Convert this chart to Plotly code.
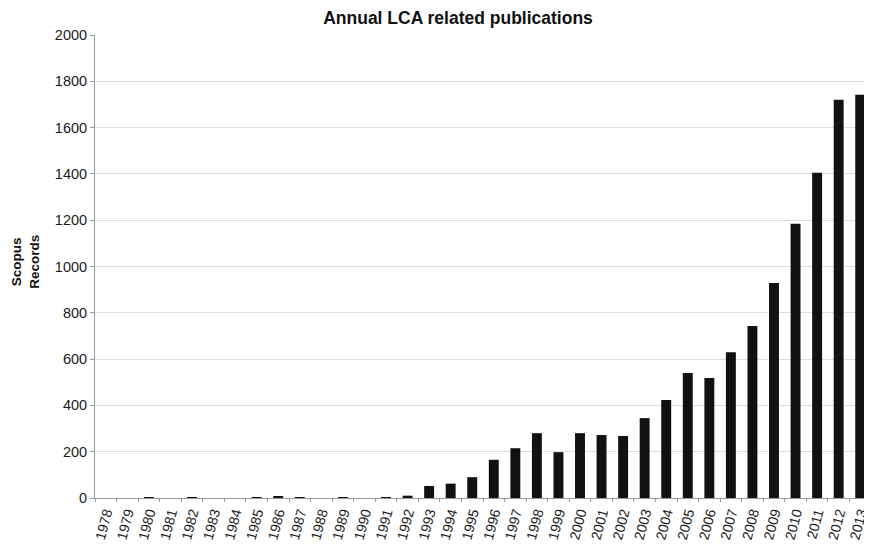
import plotly.graph_objects as go

years = [str(y) for y in range(1978, 2014)]
records = [0, 0, 2, 0, 1, 0, 0, 3, 8, 3, 0, 2, 0, 3, 10,
           52, 62, 90, 165, 215, 280, 198, 280, 272, 268, 345,
           423, 540, 518, 630, 743, 929, 1185, 1405, 1720, 1742]

# page body has an 8px margin, so the figure is sized 8px smaller on each axis
W, H = 864, 537
L, R, T, B = 87, 1, 27, 47

fig = go.Figure(go.Bar(x=years, y=records, marker=dict(color="#111111", line=dict(width=0))))

fig.update_layout(
    width=W, height=H,
    margin=dict(l=L, r=R, t=T, b=B, autoexpand=False),
    plot_bgcolor="white", paper_bgcolor="white",
    bargap=0.54,
    showlegend=False,
    font=dict(family="Liberation Sans, Arial, sans-serif", color="#222222", size=13),
    title=dict(text="<b>Annual LCA related publications</b>", x=450 / W, xanchor="center",
               y=1 - 9.5 / H, yanchor="middle", font=dict(size=17.5, color="#111111")),
)
fig.update_xaxes(
    type="category", tickangle=-75, showline=True, linecolor="#999999", linewidth=1,
    ticks="outside", ticklen=3, tickcolor="#999999", tickson="boundaries", showgrid=False,
    tickfont=dict(size=14, color="#1a1a1a"), automargin=False,
)
fig.update_yaxes(
    range=[0, 2000], dtick=200, showline=True, linecolor="#999999", linewidth=1,
    ticks="outside", ticklen=4, tickcolor="#999999", gridcolor="#dddddd", gridwidth=1,
    tickfont=dict(size=14.5, color="#1a1a1a"), zeroline=False, automargin=False,
)
fig.add_annotation(text="<b>Scopus<br>Records</b>", textangle=-90, xref="paper", yref="paper",
                   x=(18 - L) / (W - L - R), y=0.51, showarrow=False,
                   font=dict(size=13.5, color="#111111"),
                   xanchor="center", yanchor="middle")

fig.write_html("out.html")
